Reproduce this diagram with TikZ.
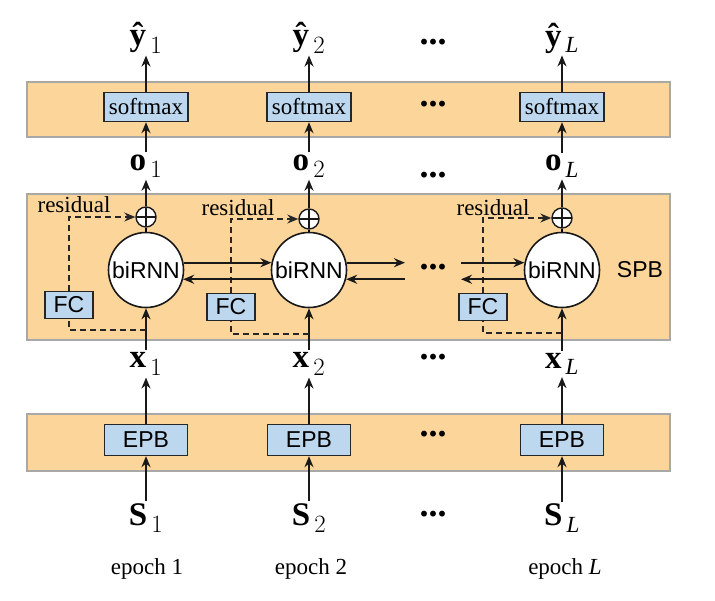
\documentclass[tikz,border=0pt]{standalone}
\usepackage{fontspec}
\setmainfont{Liberation Serif}
\setsansfont{Liberation Sans}
\usetikzlibrary{positioning,arrows.meta}
\definecolor{bandfill}{RGB}{252,213,154}
\definecolor{bandline}{RGB}{168,168,168}
\definecolor{boxfill}{RGB}{189,215,238}

\begin{document}
\begin{tikzpicture}[
  x=1pt, y=-1pt,
  >={Stealth[length=11pt,width=9pt]},
  band/.style={fill=bandfill, draw=bandline, line width=2pt},
  arr/.style={->, line width=2pt, draw=black!90},
  resid/.style={line width=1.4pt, dash pattern=on 6pt off 4pt, draw=black!85},
  lbl/.style={inner sep=2pt, font=\fontsize{33}{33}\selectfont},
  blk/.style={rectangle, draw=black!85, line width=1.4pt, fill=boxfill,
    inner sep=0pt, minimum height=29pt},
  smx/.style={blk, minimum width=84pt, font=\fontsize{23}{23}\selectfont},
  epb/.style={blk, minimum width=83pt, minimum height=31pt,
    font=\sffamily\fontsize{23}{23}\selectfont},
  fcbox/.style={blk, minimum width=48pt, minimum height=27pt,
    font=\sffamily\fontsize{23}{23}\selectfont},
  rnn/.style={circle, draw=black!90, line width=1.6pt, fill=white,
    minimum size=75pt, inner sep=0pt, font=\sffamily\fontsize{23}{23}\selectfont},
  plus/.style={circle, draw=black!90, line width=1.4pt, fill=white,
    minimum size=20pt, inner sep=0pt,
    path picture={\draw[line width=1.4pt]
      (path picture bounding box.north) -- (path picture bounding box.south)
      (path picture bounding box.west) -- (path picture bounding box.east);}},
  txt/.style={inner sep=0pt, font=\fontsize{23}{23}\selectfont},
  dots/.style={inner sep=0pt, font=\bfseries\fontsize{36}{36}\selectfont}
]

\useasboundingbox (0,0) rectangle (715,600);

% bands
\draw[band] (27,82) rectangle (670,137);
\draw[band] (27,194) rectangle (670,340);
\draw[band] (27,414) rectangle (670,471);

% column 1
\node[lbl] (y1) at (146,38) {\textbf{ŷ}$_{\,1}$};
\node[smx] (sm1) at (146,107) {softmax};
\node[lbl] (o1) at (146,166) {$\mathbf{o}_{\,1}$};
\node[plus] (p1) at (146,217) {};
\node[rnn] (r1) at (146,270) {biRNN};
\node[fcbox] (fc1) at (69,305) {FC};
\node[txt] (res1) at (74,205) {residual};
\coordinate (d1) at (146,330);
\node[lbl] (x1) at (146,364) {$\mathbf{x}_{\,1}$};
\node[epb] (e1) at (146,440) {EPB};
\node[lbl] (s1) at (146,518) {$\mathbf{S}_{\,1}$};
\node[txt] (t1) at (147,569) {epoch 1};

% column 2
\node[lbl] (y2) at (309,38) {\textbf{ŷ}$_{\,2}$};
\node[smx] (sm2) at (309,107) {softmax};
\node[lbl] (o2) at (309,166) {$\mathbf{o}_{\,2}$};
\node[plus] (p2) at (309,219) {};
\node[rnn] (r2) at (309,270) {biRNN};
\node[fcbox] (fc2) at (231,307) {FC};
\node[txt] (res2) at (238,208) {residual};
\coordinate (d2) at (309,334);
\node[lbl] (x2) at (309,364) {$\mathbf{x}_{\,2}$};
\node[epb] (e2) at (309,440) {EPB};
\node[lbl] (s2) at (309,518) {$\mathbf{S}_{\,2}$};
\node[txt] (t2) at (311,569) {epoch 2};

% column L
\node[lbl] (y3) at (562,38) {\textbf{ŷ}$_{\,\mathit{L}}$};
\node[smx] (sm3) at (562,107) {softmax};
\node[lbl] (o3) at (562,166) {$\mathbf{o}_{\,\mathit{L}}$};
\node[plus] (p3) at (562,218) {};
\node[rnn] (r3) at (562,270) {biRNN};
\node[fcbox] (fc3) at (483,307) {FC};
\node[txt] (res3) at (493,208) {residual};
\coordinate (d3) at (562,333);
\node[lbl] (x3) at (562,364) {$\mathbf{x}_{\,\mathit{L}}$};
\node[epb] (e3) at (562,440) {EPB};
\node[lbl] (s3) at (562,518) {$\mathbf{S}_{\,\mathit{L}}$};
\node[txt] (t3) at (565,569) {epoch $\mathit{L}$};

\node[inner sep=0pt, font=\sffamily\fontsize{23}{23}\selectfont] (spb) at (640,270) {SPB};

% dots
\node[dots] (dy) at (433,42) {...};
\node[dots] (dm) at (433,104) {...};
\node[dots] (do) at (433,175) {...};
\node[dots] (dr) at (433,267) {...};
\node[dots] (dx) at (433,357) {...};
\node[dots] (de) at (433,434) {...};
\node[dots] (ds) at (433,514) {...};
\coordinate (gl) at (405,270);
\coordinate (gr) at (461,270);

% vertical flow
\foreach \c in {1,2,3} {
  \draw[arr] (s\c) -- (e\c);
  \draw[arr] (e\c) -- (x\c);
  \draw[arr] (x\c) -- (r\c);
  \draw[line width=2pt] (r\c) -- (p\c);
  \draw[arr] (p\c) -- (o\c);
  \draw[arr] (o\c) -- (sm\c);
  \draw[arr] (sm\c) -- (y\c);
  % residual path
  \draw[resid] (d\c) -| (fc\c.south);
  \draw[resid,->] (fc\c.north) |- (p\c.west);
}

% recurrent links
\draw[arr] (r1.11) -- (r2.169);
\draw[arr] (r2.194) -- (r1.-14);
\draw[arr] (r2.11) -- (r2.11 -| gl);
\draw[arr] (r2.-14 -| gl) -- (r2.-14);
\draw[arr] (r3.169 -| gr) -- (r3.169);
\draw[arr] (r3.194) -- (r3.194 -| gr);

\end{tikzpicture}
\end{document}
